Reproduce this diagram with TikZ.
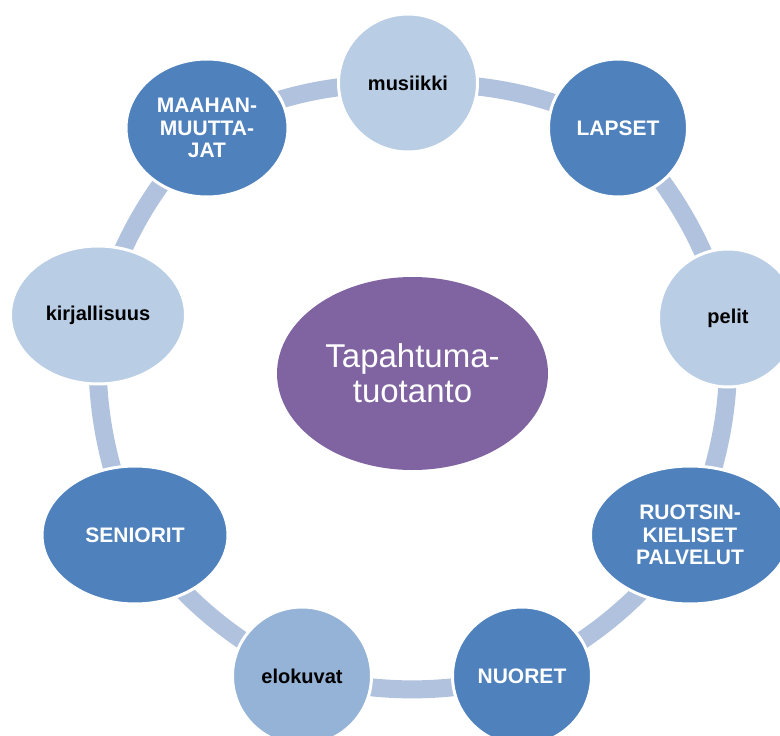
\documentclass[tikz,border=0pt]{standalone}
\usepackage{fontspec}
\setmainfont{Liberation Sans}
\usetikzlibrary{shapes.geometric,backgrounds}
\definecolor{ringblue}{RGB}{176,194,222}
\definecolor{darkblue}{RGB}{79,129,189}
\definecolor{lightblue}{RGB}{185,205,229}
\definecolor{midblue}{RGB}{149,179,215}
\definecolor{hubpurple}{RGB}{128,100,162}

\begin{document}
\begin{tikzpicture}[x=1pt,y=-1pt,
  bub/.style={ellipse,draw=white,line width=3pt,inner sep=0pt,
    minimum width=139pt,minimum height=138pt,align=center,
    font=\bfseries\fontsize{21}{22.5}\selectfont},
  darkbub/.style={bub,fill=darkblue,text=white},
  lightbub/.style={bub,fill=lightblue,font=\bfseries\fontsize{20}{22.5}\selectfont},
  ring/.style={draw=ringblue,line width=18pt}]
\useasboundingbox (0,0) rectangle (780,736);
\node[ellipse,fill=hubpurple,text=white,minimum width=271pt,minimum height=193pt,
  align=center,inner sep=0pt,font=\fontsize{33}{35}\selectfont] (hub) at (412.5,373.5) {Tapahtuma-\\tuotanto};
\node[lightbub] (musiikki) at (408,83) {musiikki};
\node[darkbub] (lapset) at (618,128) {LAPSET};
\node[lightbub] (pelit) at (728,318) {pelit};
\node[darkbub,minimum width=199pt] (ruotsi) at (690,535) {RUOTSIN-\\KIELISET\\PALVELUT};
\node[darkbub] (nuoret) at (522,676) {NUORET};
\node[lightbub,fill=midblue] (elokuvat) at (302,676) {elokuvat};
\node[darkbub,minimum width=186pt] (seniorit) at (135,535) {SENIORIT};
\node[lightbub,minimum width=175pt] (kirja) at (98,315) {kirjallisuus};
\node[darkbub,minimum width=162pt] (maahan) at (207,128) {MAAHAN-\\MUUTTA-\\JAT};
\begin{scope}[on background layer]
\draw[ring] (musiikki.center) to[bend left=12] (lapset.center)
  to[bend left=12] (pelit.center) to[bend left=12] (ruotsi.center)
  to[bend left=12] (nuoret.center) to[bend left=12] (elokuvat.center)
  to[bend left=12] (seniorit.center) to[bend left=12] (kirja.center)
  to[bend left=12] (maahan.center) to[bend left=12] (musiikki.center);
\end{scope}
\end{tikzpicture}
\end{document}
